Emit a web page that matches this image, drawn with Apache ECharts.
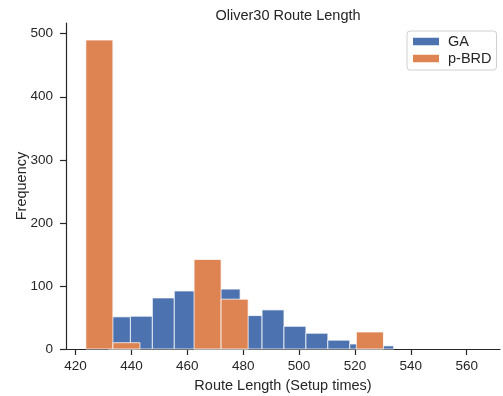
<!DOCTYPE html>
<html>
<head>
<meta charset="utf-8">
<script src="https://cdn.jsdelivr.net/npm/echarts@6/dist/echarts.min.js"></script>
<style>
  html, body { margin: 0; padding: 0; background: #fff; }
  #chart { width: 503px; height: 396px; }
</style>
</head>
<body>
<div id="chart"></div>
<script>
// bin edges and counts
var gaEdges = [431.8, 439.65, 447.5, 455.35, 463.2, 471.05, 478.9, 486.75, 494.6, 502.45,
               510.3, 518.15, 526.0, 533.85, 541.7, 549.55, 557.4, 565.25];
var gaCounts = [51, 52, 81, 92, 103, 95, 53, 62, 36, 25, 14, 8, 5, 0, 0, 0, 0];

var brdEdges = [423.7, 433.38, 443.06, 452.74, 462.42, 472.1, 481.78, 491.46, 501.14, 510.82, 520.5, 530.18];
var brdCounts = [490, 10, 0, 0, 142, 79, 0, 0, 0, 0, 27];

var xTicks = [420, 440, 460, 480, 500, 520, 540, 560];

var textColor = '#262626';
var fontFam = '"Liberation Sans", Arial, sans-serif';

function toBins(edges, counts) {
    var out = [];
    for (var i = 0; i < counts.length; i++) {
        if (counts[i] > 0) out.push([edges[i], edges[i + 1], counts[i]]);
    }
    return out;
}

function renderBar(params, api) {
    var p0 = api.coord([api.value(0), api.value(2)]);
    var p1 = api.coord([api.value(1), 0]);
    return {
        type: 'rect',
        shape: { x: p0[0], y: p0[1], width: p1[0] - p0[0], height: p1[1] - p0[1] },
        style: { fill: api.visual('color'), stroke: 'rgba(255,255,255,0.75)', lineWidth: 1 }
    };
}

var myChart = echarts.init(document.getElementById('chart'));
myChart.setOption({
    animation: false,
    backgroundColor: '#fff',
    textStyle: { fontFamily: fontFam },
    title: {
        text: 'Oliver30 Route Length',
        left: 283, top: 3, textAlign: 'center',
        textStyle: { fontSize: 14.5, fontWeight: 'normal', color: textColor, fontFamily: fontFam }
    },
    legend: {
        orient: 'vertical',
        left: 407, top: 31,
        padding: [3, 5, 4, 6],
        itemGap: 2,
        itemWidth: 26, itemHeight: 7.5,
        icon: 'rect',
        borderColor: '#d0d0d0', borderWidth: 1, borderRadius: 3,
        backgroundColor: '#fff',
        textStyle: { fontSize: 14.5, color: textColor, fontFamily: fontFam, padding: [0, 0, 0, 4] },
        data: ['GA', 'p-BRD']
    },
    grid: { left: 66, right: 3, top: 23, bottom: 47, containLabel: false, outerBoundsMode: 'none' },
    xAxis: {
        type: 'value',
        min: 416.6, max: 571.9,
        name: 'Route Length (Setup times)',
        nameLocation: 'middle', nameGap: 29,
        nameTextStyle: { fontSize: 14.5, color: textColor },
        axisLine: { lineStyle: { color: textColor, width: 1.2 } },
        axisTick: { show: true, length: 6, customValues: xTicks, lineStyle: { color: textColor, width: 1.2 } },
        axisLabel: { customValues: xTicks, color: textColor, fontSize: 13.5, margin: 10 },
        splitLine: { show: false }
    },
    yAxis: {
        type: 'value',
        min: 0, max: 517, interval: 100,
        name: 'Frequency',
        nameLocation: 'middle', nameGap: 37, nameMoveOverlap: false,
        nameTextStyle: { fontSize: 14.5, color: textColor },
        axisLine: { show: true, lineStyle: { color: textColor, width: 1.2 } },
        axisTick: { show: true, length: 6, lineStyle: { color: textColor, width: 1.2 } },
        axisLabel: { color: textColor, fontSize: 13.5, margin: 13 },
        splitLine: { show: false }
    },
    series: [
        {
            name: 'GA', type: 'custom',
            renderItem: renderBar,
            itemStyle: { color: '#4c72b0' },
            encode: { x: [0, 1], y: 2 },
            data: toBins(gaEdges, gaCounts)
        },
        {
            name: 'p-BRD', type: 'custom',
            renderItem: renderBar,
            itemStyle: { color: '#dd8452' },
            encode: { x: [0, 1], y: 2 },
            data: toBins(brdEdges, brdCounts)
        }
    ]
});
</script>
</body>
</html>
